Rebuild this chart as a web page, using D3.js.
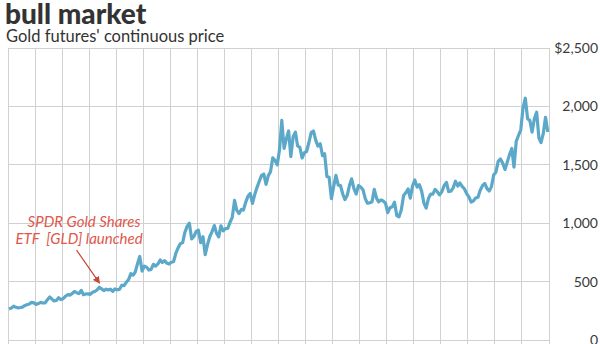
<!DOCTYPE html>
<html><head><meta charset="utf-8">
<script src="https://cdn.jsdelivr.net/npm/d3@7"></script>
<style>
html,body{margin:0;padding:0;background:#fff;overflow:hidden}
svg{display:block;font-family:Lato,"Open Sans",sans-serif}
</style></head>
<body><svg id="c" width="600" height="344"></svg>
<script>
const titleText = "bull market";
const subtitleText = "Gold futures' continuous price";
const annotationLines = ["SPDR Gold Shares", "ETF  [GLD] launched"];
const startYear = 2001, startMonth = 7; // first monthly observation: July 2001
// Monthly gold futures price (USD/oz), July 2001 – June 2021
const prices = [
 266,273,290,280,275,278,
 282,296,302,308,322,318,305,312,322,317,318,345,
 368,350,334,338,362,346,354,374,388,384,398,415,
 405,397,425,388,394,395,391,408,416,428,452,438,
 423,435,428,435,417,437,430,434,469,466,495,517,
 568,556,582,654,715,590,632,624,599,604,648,632,
 651,685,663,679,659,650,665,672,743,789,825,834,
 923,975,1000,865,886,930,940,833,884,730,816,884,
 928,980,917,883,978,935,954,955,1008,1050,1195,1110,
 1083,1118,1113,1180,1230,1255,1169,1246,1307,1359,1410,1421,
 1333,1410,1439,1560,1536,1500,1628,1880,1640,1722,1790,1570,
 1740,1780,1662,1650,1558,1604,1614,1691,1776,1790,1711,1660,
 1680,1578,1596,1400,1393,1210,1313,1410,1326,1323,1250,1202,
 1240,1326,1380,1296,1250,1322,1310,1287,1210,1171,1175,1184,
 1290,1213,1183,1200,1190,1172,1090,1132,1140,1180,1065,1055,
 1116,1238,1260,1293,1215,1320,1370,1309,1330,1275,1173,1130,
 1211,1250,1249,1290,1269,1242,1270,1322,1350,1271,1275,1303,
 1360,1318,1345,1315,1295,1254,1225,1180,1192,1215,1222,1282,
 1321,1340,1298,1275,1311,1413,1437,1529,1550,1514,1460,1523,
 1587,1640,1480,1702,1751,1800,1986,2070,1895,1879,1780,1895,
 1950,1729,1690,1769,1907,1780
];
const yTicks = [0, 500, 1000, 1500, 2000, 2500];
const yTickLabels = ["0", "500", "1,000", "1,500", "2,000", "$2,500"];
const gldLaunch = {date: new Date(2004, 10, 18), value: 470};

const data = prices.map((v, i) => ({date: new Date(startYear, startMonth - 1 + i, 15), value: v}));

const svg = d3.select("#c");
const pLeft = 8, pRight = 549, pTop = 48, pBottom = 340;
const x = d3.scaleTime().domain([new Date(2001, 6, 1), new Date(2021, 6, 1)]).range([pLeft, pRight]);
const y = d3.scaleLinear().domain([0, 2500]).range([pBottom, pTop]);

// vertical yearly grid
const gridDates = d3.range(2001, 2022).map(yr => new Date(yr, 6, 1));
svg.append("g").selectAll("line").data(gridDates).join("line")
  .attr("x1", d => x(d)).attr("x2", d => x(d))
  .attr("y1", pTop).attr("y2", 344)
  .attr("stroke", "#d0d0d0").attr("stroke-width", 1).attr("shape-rendering", "crispEdges");
// horizontal grid
svg.append("g").selectAll("line").data(yTicks).join("line")
  .attr("x1", pLeft).attr("x2", pRight)
  .attr("y1", d => y(d)).attr("y2", d => y(d))
  .attr("stroke", "#d0d0d0").attr("stroke-width", 1).attr("shape-rendering", "crispEdges");

// right axis labels
const ax = svg.append("g").attr("transform", `translate(${pRight},0)`)
  .call(d3.axisRight(y).tickValues(yTicks).tickSize(0).tickFormat((d, i) => yTickLabels[i]));
ax.select(".domain").remove();
ax.selectAll("text").attr("x", 598 - pRight).attr("text-anchor", "end")
  .attr("font-family", "Lato, sans-serif").attr("font-size", 14).attr("fill", "#3a3a3a");

// line
svg.append("path").datum(data)
  .attr("fill", "none").attr("stroke", "#5ba8c9").attr("stroke-width", 3.2)
  .attr("stroke-linejoin", "round")
  .attr("d", d3.line().x(d => x(d.date)).y(d => y(d.value)));

// annotation
const defs = svg.append("defs");
defs.append("marker").attr("id", "ah").attr("viewBox", "0 0 10 10").attr("refX", 9).attr("refY", 5)
  .attr("markerWidth", 6).attr("markerHeight", 6).attr("orient", "auto")
  .append("path").attr("d", "M0,0 L10,5 L0,10 z").attr("fill", "#c94535");
const tipX = x(gldLaunch.date), tipY = y(gldLaunch.value) - 2;
svg.append("line").attr("x1", tipX - 23).attr("y1", tipY - 33).attr("x2", tipX).attr("y2", tipY)
  .attr("stroke", "#c94535").attr("stroke-width", 1.2).attr("marker-end", "url(#ah)");
const at = svg.append("text").attr("font-family", "Lato, sans-serif").attr("font-style", "italic")
  .attr("font-size", 15).attr("fill", "#e0584c").attr("text-anchor", "middle");
at.append("tspan").attr("x", 84).attr("y", 227).text(annotationLines[0]);
at.append("tspan").attr("x", 79).attr("y", 244).attr("xml:space", "preserve").text(annotationLines[1]);

// titles
svg.append("text").attr("x", 5).attr("y", 24).attr("font-family", "Lato, sans-serif")
  .attr("font-weight", 900).attr("font-size", 28).attr("fill", "#333").text(titleText);
svg.append("text").attr("x", 6).attr("y", 42).attr("font-family", "Lato, sans-serif")
  .attr("font-size", 16.5).attr("fill", "#333").text(subtitleText);
</script></body></html>
